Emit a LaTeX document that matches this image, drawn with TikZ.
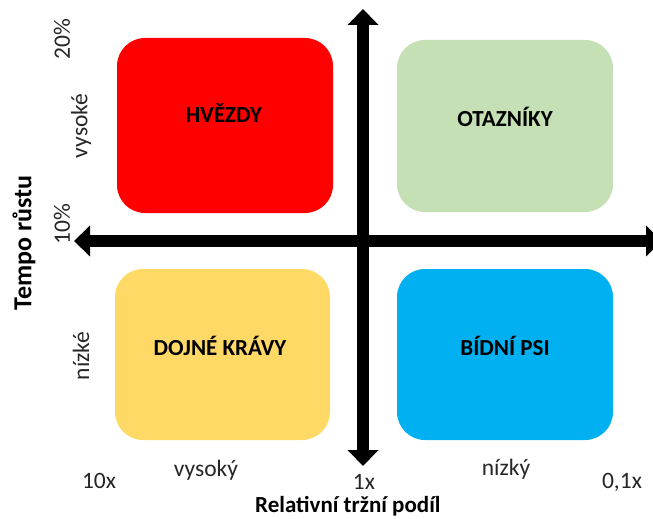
\documentclass[tikz,border=0pt]{standalone}
\usepackage{fontspec}
\setmainfont{Carlito}
\usetikzlibrary{arrows.meta}
\definecolor{starred}{HTML}{FF0000}
\definecolor{questgreen}{HTML}{C5E0B4}
\definecolor{cowyellow}{HTML}{FFD966}
\definecolor{dogblue}{HTML}{00B0F0}
\tikzset{
  quadrant/.style={rounded corners=28pt, inner sep=0pt},
  quadlabel/.style={font=\fontsize{23}{26}\selectfont\bfseries, text=black, inner sep=0pt},
  scalelabel/.style={font=\fontsize{23.5}{26}\selectfont, text=black!85, inner sep=0pt},
  axistitle/.style={font=\fontsize{23}{26}\selectfont\bfseries, text=black, inner sep=0pt},
  axisarrow/.style={line width=12pt, {Triangle[length=16pt,width=30pt]}-{Triangle[length=16pt,width=30pt]}},
}
\begin{document}
\begin{tikzpicture}[x=1pt,y=-1pt]
\useasboundingbox (0,0) rectangle (653,519);
\fill[white] (0,0) rectangle (653,519);

% the four quadrants
\node[quadrant, fill=starred, minimum width=216pt, minimum height=175pt] (stars) at (225,125.5) {};
\node[quadrant, fill=questgreen, minimum width=216pt, minimum height=172pt] (quest) at (505,126) {};
\node[quadrant, fill=cowyellow, minimum width=215pt, minimum height=171pt] (cows) at (222.5,354.5) {};
\node[quadrant, fill=dogblue, minimum width=216pt, minimum height=171pt] (dogs) at (505,354.5) {};

\node[quadlabel] (tstars) at (224,113) {HVĚZDY};
\node[quadlabel] (tquest) at (505,117) {OTAZNÍKY};
\node[quadlabel] (tcows) at (220,346) {DOJNÉ KRÁVY};
\node[quadlabel] (tdogs) at (505,346) {BÍDNÍ PSI};

% axes
\coordinate (xleft) at (74,241);
\coordinate (xright) at (662,241);
\coordinate (ytop) at (363,9);
\coordinate (ybot) at (363,466);
\draw[axisarrow] (xleft) -- (xright);
\draw[axisarrow] (ybot) -- (ytop);

% growth rate scale
\node[scalelabel, rotate=90] (g20) at (62,39) {20\%};
\node[scalelabel, rotate=90] (ghigh) at (81,126) {vysoké};
\node[scalelabel, rotate=90] (g10) at (62,224) {10\%};
\node[scalelabel, rotate=90] (glow) at (81,356) {nízké};
\node[axistitle, rotate=90, font=\fontsize{26}{30}\selectfont\bfseries] (ytitle) at (24,243) {Tempo růstu};

% market share scale
\node[scalelabel, anchor=base] (s10) at (99,488) {10x};
\node[scalelabel, anchor=base] (shigh) at (206,476) {vysoký};
\node[scalelabel, anchor=base] (s1) at (364,489) {1x};
\node[scalelabel, anchor=base] (slow) at (506,475) {nízký};
\node[scalelabel, anchor=base] (s01) at (622,488) {0,1x};
\node[axistitle, anchor=base west] (xtitle) at (255,512) {Relativní tržní podíl};
\end{tikzpicture}
\end{document}
